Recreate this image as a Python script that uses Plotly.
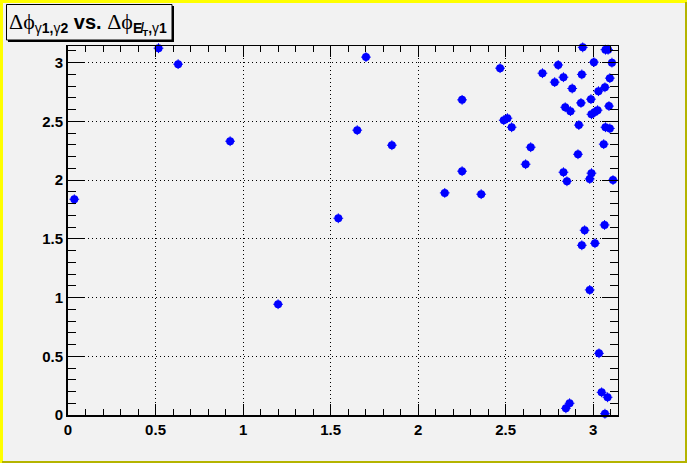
import plotly.graph_objects as go
import math

# ---- data: (dphi_MET_gamma1, dphi_gamma1_gamma2) ----
dphi_met_g1 = [0.036, 0.517, 0.629, 0.926, 1.200, 1.544, 1.652, 1.702, 1.850, 2.152,
               2.251, 2.251, 2.360, 2.468, 2.489, 2.510, 2.534, 2.614, 2.643, 2.710,
               2.780, 2.800, 2.830, 2.840, 2.870, 2.880, 2.830, 2.850, 2.844, 2.865,
               2.913, 2.918, 2.930, 2.935, 2.940, 2.935, 2.951, 2.980, 2.980, 2.990,
               2.987, 2.990, 3.004, 3.010, 3.010, 3.025, 3.030, 3.033, 3.048, 3.060,
               3.065, 3.067, 3.067, 3.070, 3.070, 3.082, 3.085, 3.090, 3.095, 3.095,
               3.107, 3.113]
dphi_g1_g2 = [1.837, 3.123, 2.987, 2.331, 0.943, 1.675, 2.425, 3.047, 2.297, 1.891,
              2.683, 2.076, 1.880, 2.953, 2.510, 2.527, 2.450, 2.135, 2.280, 2.910,
              2.834, 2.980, 2.876, 2.620, 2.587, 2.780, 2.067, 1.990, 0.057, 0.100,
              2.220, 2.468, 2.657, 2.900, 3.130, 1.445, 1.573, 1.065, 2.010, 2.059,
              2.689, 2.560, 3.004, 2.580, 1.462, 2.595, 2.757, 0.525, 0.193, 2.306,
              1.618, 2.790, 0.011, 2.450, 3.110, 0.151, 3.110, 2.630, 2.868, 2.440,
              3.000, 2.000]

x_tickvals = [0, 0.5, 1, 1.5, 2, 2.5, 3]
x_ticktext = ["0", "0.5", "1", "1.5", "2", "2.5", "3"]
y_tickvals = [0, 0.5, 1, 1.5, 2, 2.5, 3]
y_ticktext = ["0", "0.5", "1", "1.5", "2", "2.5", "3"]

title_html = ('<span style="font-family:Liberation Serif;font-size:22px">Δϕ</span>'
              '<sub>γ<b>1,</b>γ<b>2</b></sub> <b>vs.</b> '
              '<span style="font-family:Liberation Serif;font-size:22px">Δϕ</span>'
              '<sub><b>E̸</b><sub><b>T</b></sub><b>,</b>γ<b>1</b></sub>')

W, H = 687, 463
L, R, T, B = 68, 618, 46, 415
BG = "#f2f2f2"


def px(xp):
    return (xp - L) / (R - L)


def py(yp):
    return (B - yp) / (B - T)


fig = go.Figure()
fig.add_trace(go.Scatter(x=dphi_met_g1, y=dphi_g1_g2, mode="markers",
                         marker=dict(symbol="circle", size=8, color="#0000ff",
                                     line=dict(width=0)),
                         cliponaxis=False, showlegend=False, hoverinfo="x+y"))
fig.add_trace(go.Scatter(x=dphi_met_g1, y=dphi_g1_g2, mode="markers",
                         marker=dict(symbol="cross-thin", size=7,
                                     line=dict(width=1, color="#0000ff")),
                         cliponaxis=False, showlegend=False, hoverinfo="skip",
                         xaxis="x2", yaxis="y2"))

tickfont = dict(family="Liberation Sans", size=15, color="black", weight="bold")
rng = [0, math.pi]
griddash = "1px,3px"

fig.update_layout(
    width=W, height=H,
    margin=dict(l=L, r=W - R, t=T, b=H - B, pad=0),
    paper_bgcolor=BG, plot_bgcolor=BG,
    xaxis=dict(range=rng, tickvals=x_tickvals, ticktext=x_ticktext,
               ticks="inside", ticklen=11, tickwidth=1, tickcolor="black",
               minor=dict(dtick=0.1, tick0=0, ticks="inside", ticklen=6,
                          tickcolor="black", showgrid=False),
               showline=True, linewidth=2, linecolor="black",
               showgrid=True, gridcolor="black", griddash=griddash, gridwidth=1,
               zeroline=False, tickfont=tickfont, fixedrange=True),
    yaxis=dict(range=rng, tickvals=y_tickvals, ticktext=y_ticktext,
               ticks="inside", ticklen=16, tickwidth=1, tickcolor="black",
               minor=dict(dtick=0.1, tick0=0, ticks="inside", ticklen=8,
                          tickcolor="black", showgrid=False),
               showline=True, linewidth=2, linecolor="black",
               showgrid=True, gridcolor="black", griddash=griddash, gridwidth=1,
               zeroline=False, tickfont=tickfont, fixedrange=True),
    xaxis2=dict(range=rng, overlaying="x", side="top", matches="x",
                tickvals=x_tickvals, showticklabels=False,
                ticks="inside", ticklen=11, tickwidth=1, tickcolor="black",
                minor=dict(dtick=0.1, tick0=0, ticks="inside", ticklen=6,
                           tickcolor="black"),
                showline=True, linewidth=1, linecolor="black",
                showgrid=False, zeroline=False, fixedrange=True),
    yaxis2=dict(range=rng, overlaying="y", side="right", matches="y",
                tickvals=y_tickvals, showticklabels=False,
                ticks="inside", ticklen=16, tickwidth=1, tickcolor="black",
                minor=dict(dtick=0.1, tick0=0, ticks="inside", ticklen=8,
                           tickcolor="black"),
                showline=True, linewidth=1, linecolor="black",
                showgrid=False, zeroline=False, fixedrange=True),
)

shapes = []
# canvas bevel border
shapes.append(dict(type="rect", xref="paper", yref="paper", layer="above",
                   x0=px(0), x1=px(3), y0=py(0), y1=py(H), fillcolor="#ffff00",
                   line=dict(width=0)))
shapes.append(dict(type="rect", xref="paper", yref="paper", layer="above",
                   x0=px(0), x1=px(W), y0=py(0), y1=py(3), fillcolor="#ffff00",
                   line=dict(width=0)))
shapes.append(dict(type="rect", xref="paper", yref="paper", layer="above",
                   x0=px(W - 2), x1=px(W), y0=py(2), y1=py(H), fillcolor="#b4b400",
                   line=dict(width=0)))
shapes.append(dict(type="rect", xref="paper", yref="paper", layer="above",
                   x0=px(2), x1=px(W), y0=py(H - 2), y1=py(H), fillcolor="#b4b400",
                   line=dict(width=0)))
# title box with shadow
shapes.append(dict(type="rect", xref="paper", yref="paper", layer="above",
                   x0=px(8), x1=px(174), y0=py(42), y1=py(6), fillcolor="black",
                   line=dict(width=0)))
shapes.append(dict(type="rect", xref="paper", yref="paper", layer="above",
                   x0=px(6.5), x1=px(172), y0=py(40), y1=py(4.5), fillcolor=BG,
                   line=dict(width=1, color="black")))
fig.update_layout(shapes=shapes)

fig.add_annotation(text=title_html, xref="paper", yref="paper",
                   x=px(7), y=py(24), xanchor="left", yanchor="middle",
                   showarrow=False,
                   font=dict(family="Liberation Sans", size=20, color="black"))

fig.write_html("out.html",
               config={"displayModeBar": False},
               post_script="document.body.style.margin='0px';"
                           "document.body.style.overflow='hidden';")
